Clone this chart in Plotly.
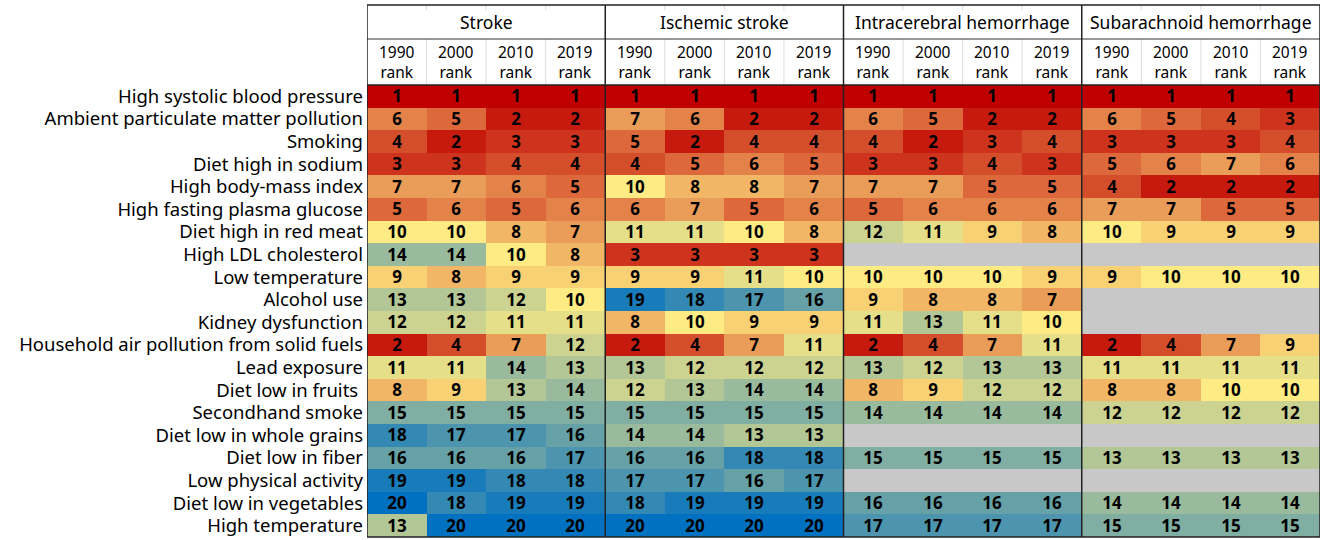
import plotly.graph_objects as go
import numpy as np

factors = ["High systolic blood pressure", "Ambient particulate matter pollution", "Smoking",
           "Diet high in sodium", "High body-mass index", "High fasting plasma glucose",
           "Diet high in red meat", "High LDL cholesterol", "Low temperature", "Alcohol use",
           "Kidney dysfunction", "Household air pollution from solid fuels", "Lead exposure",
           "Diet low in fruits ", "Secondhand smoke", "Diet low in whole grains",
           "Diet low in fiber", "Low physical activity", "Diet low in vegetables",
           "High temperature"]
causes = ["Stroke", "Ischemic stroke", "Intracerebral hemorrhage", "Subarachnoid hemorrhage"]
years = ["1990", "2000", "2010", "2019"]

stroke = [[1, 1, 1, 1], [6, 5, 2, 2], [4, 2, 3, 3], [3, 3, 4, 4], [7, 7, 6, 5],
          [5, 6, 5, 6], [10, 10, 8, 7], [14, 14, 10, 8], [9, 8, 9, 9], [13, 13, 12, 10],
          [12, 12, 11, 11], [2, 4, 7, 12], [11, 11, 14, 13], [8, 9, 13, 14], [15, 15, 15, 15],
          [18, 17, 17, 16], [16, 16, 16, 17], [19, 19, 18, 18], [20, 18, 19, 19], [13, 20, 20, 20]]
ischemic = [[1, 1, 1, 1], [7, 6, 2, 2], [5, 2, 4, 4], [4, 5, 6, 5], [10, 8, 8, 7],
            [6, 7, 5, 6], [11, 11, 10, 8], [3, 3, 3, 3], [9, 9, 11, 10], [19, 18, 17, 16],
            [8, 10, 9, 9], [2, 4, 7, 11], [13, 12, 12, 12], [12, 13, 14, 14], [15, 15, 15, 15],
            [14, 14, 13, 13], [16, 16, 18, 18], [17, 17, 16, 17], [18, 19, 19, 19], [20, 20, 20, 20]]
ich = [[1, 1, 1, 1], [6, 5, 2, 2], [4, 2, 3, 4], [3, 3, 4, 3], [7, 7, 5, 5],
       [5, 6, 6, 6], [12, 11, 9, 8], [None] * 4, [10, 10, 10, 9], [9, 8, 8, 7],
       [11, 13, 11, 10], [2, 4, 7, 11], [13, 12, 13, 13], [8, 9, 12, 12], [14, 14, 14, 14],
       [None] * 4, [15, 15, 15, 15], [None] * 4, [16, 16, 16, 16], [17, 17, 17, 17]]
sah = [[1, 1, 1, 1], [6, 5, 4, 3], [3, 3, 3, 4], [5, 6, 7, 6], [4, 2, 2, 2],
       [7, 7, 5, 5], [10, 9, 9, 9], [None] * 4, [9, 10, 10, 10], [None] * 4,
       [None] * 4, [2, 4, 7, 9], [11, 11, 11, 11], [8, 8, 10, 10], [12, 12, 12, 12],
       [None] * 4, [13, 13, 13, 13], [None] * 4, [14, 14, 14, 14], [15, 15, 15, 15]]

# join the four blocks side by side
z = []
for i in range(len(factors)):
    z.append(stroke[i] + ischemic[i] + ich[i] + sah[i])
zz = np.array([[np.nan if v is None else v for v in row] for row in z], dtype=float)
txt = [["" if v is None else str(v) for v in row] for row in z]
xs = list(range(16))

fnt = "Noto Sans"
fig = go.Figure()
fig.add_trace(go.Heatmap(
    z=zz, x=xs, y=factors, text=txt, texttemplate="%{text}",
    textfont=dict(family=fnt, size=17, color="black", weight="bold"),
    colorscale=[[0, "#C00000"], [9 / 19, "#FFEB84"], [1, "#0070C0"]],
    zmin=1, zmax=20, showscale=False, hoverinfo="skip"))

H = 452.0
def py(px):  # pixels above plot top -> paper y
    return 1 + px / H

top = py(80)
mid = py(46)

fig.update_layout(
    width=1325, height=540,
    margin=dict(l=367, r=5, t=85, b=3),
    plot_bgcolor="#C8C8C8", paper_bgcolor="white",
    font=dict(family=fnt, color="black"),
    xaxis=dict(range=[-0.5, 15.5], showticklabels=False, showgrid=False, zeroline=False,
               fixedrange=True),
    yaxis=dict(autorange="reversed", showgrid=False, zeroline=False, ticks="",
               ticklabelstandoff=3, tickfont=dict(family=fnt, size=18.5, color="black")),
)

# header texts
for g, c in enumerate(causes):
    fig.add_annotation(text=c, x=g * 4 + 1.5, y=(top + mid) / 2, xref="x", yref="paper",
                       xanchor="center", yanchor="middle", showarrow=False,
                       font=dict(family=fnt, size=17.5, color="black"))
    for k, yr in enumerate(years):
        fig.add_annotation(text=yr + "<br>rank", x=g * 4 + k, y=(mid + 1) / 2, xref="x",
                           yref="paper", xanchor="center", yanchor="middle", showarrow=False,
                           font=dict(family=fnt, size=15.5, color="black"))

# light separators inside header
for j in range(16):
    if j % 4 == 3:
        continue
    fig.add_shape(type="line", x0=j + 0.5, x1=j + 0.5, y0=1, y1=mid, xref="x", yref="paper",
                  line=dict(color="#DDDDDD", width=1))
    fig.add_shape(type="line", x0=j + 0.5, x1=j + 0.5, y0=top - 0.012, y1=top, xref="x",
                  yref="paper", line=dict(color="#DDDDDD", width=1))

# borders
fig.add_shape(type="line", x0=-0.5, x1=15.5, y0=mid, y1=mid, xref="x", yref="paper",
              line=dict(color="#333333", width=1))
fig.add_shape(type="line", x0=-0.5, x1=15.5, y0=1, y1=1, xref="x", yref="paper",
              line=dict(color="#222222", width=1.5))
for b in [3.5, 7.5, 11.5]:
    fig.add_shape(type="line", x0=b, x1=b, y0=0, y1=top, xref="x", yref="paper",
                  line=dict(color="#222222", width=1.5))
fig.add_shape(type="rect", x0=-0.5, x1=15.5, y0=0, y1=top, xref="x", yref="paper",
              line=dict(color="#222222", width=1.5))

fig.write_html("out.html", config={"displayModeBar": False},
               post_script="document.body.style.margin='0';")
